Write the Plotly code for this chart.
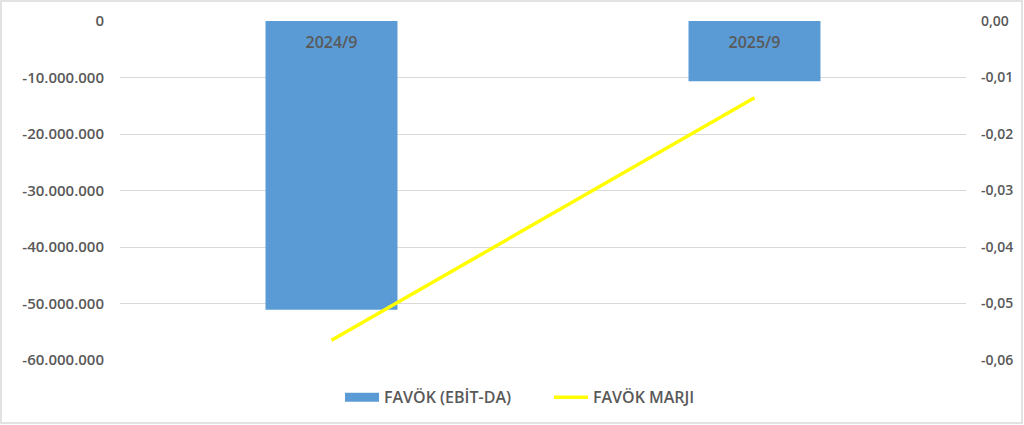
import plotly.graph_objects as go

categories = ["2024/9", "2025/9"]
favok = [-51100000, -10650000]
favok_marji = [-0.0565, -0.0136]
left_ticks = [0, -10000000, -20000000, -30000000, -40000000, -50000000, -60000000]
right_ticks = [0.0, -0.01, -0.02, -0.03, -0.04, -0.05, -0.06]

left_text = [f"{v:,}".replace(",", ".") for v in left_ticks]
right_text = [f"{v:.2f}".replace(".", ",") for v in right_ticks]

W, H = 1024, 425
ML, MR, MT, MB = 120, 58, 21, 65
font_family = "Open Sans, Liberation Sans, sans-serif"
txt = "#595959"

fig = go.Figure()
fig.add_trace(go.Bar(
    x=categories, y=favok, name="FAVÖK (EBİT-DA)",
    marker=dict(color="#5B9BD5", line=dict(width=0)),
    yaxis="y", width=0.312, showlegend=False,
))
fig.add_trace(go.Scatter(
    x=[None], y=[None], name="FAVÖK (EBİT-DA)", mode="lines",
    line=dict(color="#5B9BD5", width=9), yaxis="y", showlegend=True,
))
fig.add_trace(go.Scatter(
    x=categories, y=favok_marji, name="FAVÖK MARJI", mode="lines",
    line=dict(color="#FFFF00", width=3.5), yaxis="y2",
))

pw = W - ML - MR
ph = H - MT - MB
fig.add_shape(type="rect", xref="paper", yref="paper",
              x0=(1 - ML) / pw, x1=(1022 - ML) / pw,
              y0=-(423 - (H - MB)) / ph,
              y1=1 + (MT - 1) / ph,
              line=dict(color="#D9D9D9", width=1.5), fillcolor="rgba(0,0,0,0)")

fig.update_layout(
    width=W, height=H,
    margin=dict(l=ML, r=MR, t=MT, b=MB, autoexpand=False),
    paper_bgcolor="white", plot_bgcolor="white",
    font=dict(family=font_family, color=txt, size=15, weight=600),
    bargap=0.69,
    xaxis=dict(side="bottom", anchor="free", position=(H - MB - 31) / ph,
               ticklabelstandoff=0,
               showline=False, showgrid=False, ticks="", automargin=False,
               tickfont=dict(size=16, color=txt, family=font_family, weight=600)),
    yaxis=dict(range=[-60000000, 0], tickvals=left_ticks, ticktext=left_text,
               showgrid=True, gridcolor="#D9D9D9", gridwidth=1, zeroline=False,
               ticks="", ticklabelstandoff=15, automargin=False,
               tickfont=dict(size=15, color=txt, family=font_family, weight=600)),
    yaxis2=dict(range=[-0.06, 0], tickvals=right_ticks, ticktext=right_text,
                overlaying="y", side="right", showgrid=False, zeroline=False,
                ticks="", ticklabelstandoff=14, automargin=False,
                tickfont=dict(size=14, color=txt, family=font_family, weight=600)),
    legend=dict(orientation="h", x=(340 - ML) / pw, xanchor="left", y=-0.06, yanchor="top",
                font=dict(size=16, color=txt, family=font_family, weight=600),
                itemwidth=34, entrywidth=160, traceorder="normal"),
    showlegend=True,
)

fig.write_html("out.html", config={"displayModeBar": False},
               post_script="document.body.style.margin='0';document.body.style.padding='0';")
